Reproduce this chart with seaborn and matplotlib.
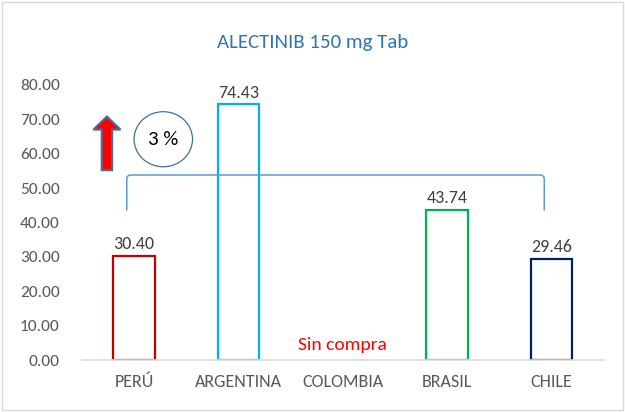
import numpy as np
import pandas as pd
import matplotlib
matplotlib.use("Agg")
import matplotlib.pyplot as plt
import seaborn as sns
from matplotlib.patches import Ellipse, FancyArrow, PathPatch, Rectangle
from matplotlib.path import Path

paises = ["PERÚ", "ARGENTINA", "COLOMBIA", "BRASIL", "CHILE"]
precios = [30.40, 74.43, np.nan, 43.74, 29.46]
colores = ["#C00000", "#00B0F0", "#FFFFFF", "#00B050", "#002060"]
titulo = "ALECTINIB 150 mg Tab"
nota_colombia = "Sin compra"
variacion = "3 %"

df = pd.DataFrame({"pais": paises, "precio": precios})

sns.set_style("white")
plt.rcParams['font.family'] = ['Carlito', 'Liberation Sans', 'DejaVu Sans']

fig = plt.figure(figsize=(6.25, 4.12), dpi=100)
ax = fig.add_axes([0.131, 0.126, 0.835, 0.668])

sns.barplot(data=df, x="pais", y="precio", hue="pais", order=paises,
            palette=dict(zip(paises, colores)), fill=False, linewidth=1.6,
            width=0.4, legend=False, ax=ax)

# etiquetas de valores
for i, v in enumerate(precios):
    if not np.isnan(v):
        ax.text(i, v + 1.0, f"{v:.2f}", ha="center", va="bottom",
                fontsize=13, color="#404040")

ax.text(2, 2.0, nota_colombia, ha="center", va="bottom", fontsize=14, color="#FF0000")

ax.set_ylim(0, 80)
ax.set_xlim(-0.5, 4.5)
ax.set_yticks(np.arange(0, 81, 10))
ax.set_yticklabels([f"{t:.2f}" for t in np.arange(0, 81, 10)])
ax.set_xlabel("")
ax.set_ylabel("")
ax.tick_params(axis="both", colors="#595959", labelsize=12.5, length=0)
ax.tick_params(axis="x", labelsize=13)
ax.tick_params(axis="y", pad=16)
ax.tick_params(axis="x", pad=10)
for s in ["top", "right", "left"]:
    ax.spines[s].set_visible(False)
ax.spines["bottom"].set_color("#D9D9D9")
ax.spines["bottom"].set_linewidth(1.2)

fig.text(0.5, 0.897, titulo, ha="center", va="center", fontsize=15, color="#2E75B6")

# llave entre Perú y Chile
x0, x1 = -0.07, 3.93
yb, yt = 43.5, 53.8
dx, dy = 0.04, 1.2
verts = [(x0, yb), (x0, yt - dy), (x0, yt), (x0 + dx, yt),
         (x1 - dx, yt), (x1, yt), (x1, yt - dy), (x1, yb)]
codes = [Path.MOVETO, Path.LINETO, Path.CURVE3, Path.CURVE3,
         Path.LINETO, Path.CURVE3, Path.CURVE3, Path.LINETO]
ax.add_patch(PathPatch(Path(verts, codes), fill=False, edgecolor="#5B9BD5", linewidth=1.1))

# flecha de aumento
ax.add_patch(FancyArrow(-0.26, 55.2, 0, 15.6, width=0.1, head_width=0.26,
                        head_length=3.8, length_includes_head=True,
                        facecolor="#FF0000", edgecolor="#41719C", linewidth=1.5))

# elipse con porcentaje
ax.add_patch(Ellipse((0.28, 64.2), 0.56, 16, fill=False, edgecolor="#41719C", linewidth=0.9))
ax.text(0.28, 64.2, variacion, ha="center", va="center", fontsize=15, color="#000000")

fig.patches.append(Rectangle((0.003, 0.004), 0.994, 0.992, transform=fig.transFigure,
                             fill=False, edgecolor="#D9D9D9", linewidth=1))

plt.savefig("out.png", dpi=100)
